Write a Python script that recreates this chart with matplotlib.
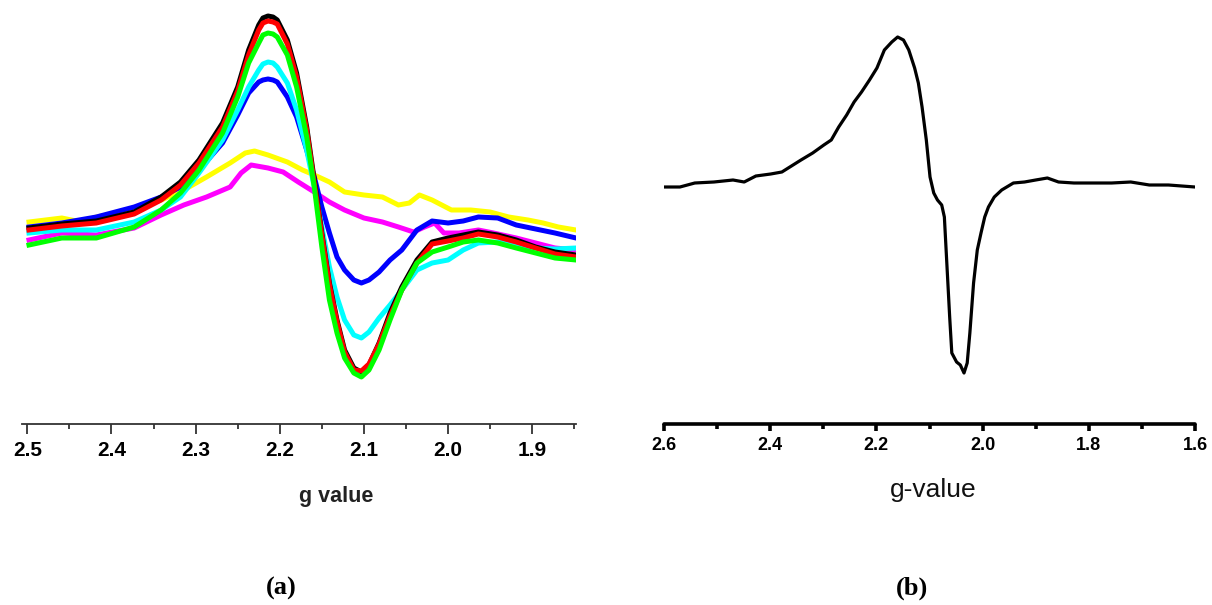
import matplotlib
matplotlib.use('Agg')
import matplotlib.pyplot as plt
from matplotlib.ticker import MultipleLocator

# panel (a): g value grid shared by the four strong traces
g_a = [2.498, 2.459, 2.418, 2.373, 2.341, 2.318, 2.296, 2.268, 2.250, 2.237, 2.225, 2.220, 2.214,
       2.208, 2.203, 2.191, 2.180, 2.168, 2.159, 2.150, 2.141, 2.132, 2.123, 2.112, 2.103, 2.094,
       2.082, 2.069, 2.055, 2.037, 2.019, 2.000, 1.982, 1.964, 1.941, 1.919, 1.896, 1.873, 1.848]
black_a = [196, 200, 203, 212, 227, 242, 264, 301, 337, 374, 399, 406, 408, 407, 404, 384, 351, 297,
           244, 191, 141, 104, 74, 56, 52, 59, 81, 111, 137, 164, 182, 186, 189, 192, 189, 184,
           177, 172, 169]
red_a = [194, 198, 201, 210, 224, 239, 261, 297, 333, 369, 394, 401, 403, 402, 400, 380, 347, 294,
         241, 189, 139, 102, 72, 54, 53, 60, 80, 108, 134, 161, 180, 183, 186, 190, 187, 182,
         176, 170, 167]
green_a = [179, 186, 186, 197, 214, 231, 254, 291, 327, 361, 381, 389, 391, 390, 387, 369, 337, 287,
           237, 177, 124, 91, 66, 51, 47, 54, 74, 104, 134, 161, 172, 177, 182, 184, 181, 176,
           171, 166, 164]
cyan_a = [191, 194, 194, 202, 214, 227, 251, 284, 314, 337, 354, 360, 362, 361, 357, 341, 314, 274,
          237, 197, 157, 127, 104, 89, 86, 92, 106, 119, 134, 154, 161, 164, 174, 181, 182, 179,
          176, 175, 176]
blue_a = [197, 201, 207, 217, 227, 237, 254, 281, 309, 331, 342, 344, 345, 344, 342, 327, 307, 274,
          247, 217, 191, 167, 154, 144, 141, 144, 152, 164, 174, 194, 203, 201, 203, 207, 206,
          199, 195, 191, 186]

g_yellow = [2.498, 2.459, 2.436, 2.418, 2.373, 2.341, 2.314, 2.287, 2.259, 2.241, 2.230, 2.214,
            2.191, 2.173, 2.159, 2.141, 2.123, 2.100, 2.078, 2.059, 2.046, 2.034, 2.019, 1.996,
            1.973, 1.950, 1.928, 1.905, 1.887, 1.869, 1.848]
yellow_a = [202, 206, 202, 207, 214, 224, 234, 247, 261, 271, 273, 269, 262, 254, 249, 242, 232,
            229, 227, 219, 221, 229, 224, 214, 214, 212, 207, 204, 201, 197, 194]

g_magenta = [2.498, 2.459, 2.418, 2.373, 2.341, 2.314, 2.287, 2.259, 2.246, 2.234, 2.214, 2.196,
             2.178, 2.159, 2.141, 2.123, 2.100, 2.078, 2.059, 2.041, 2.028, 2.016, 2.005, 1.987,
             1.964, 1.946, 1.919, 1.896, 1.873, 1.848]
magenta_a = [184, 191, 189, 196, 209, 219, 227, 237, 251, 259, 256, 252, 242, 232, 222, 214, 206,
             202, 197, 192, 197, 201, 191, 191, 194, 191, 186, 181, 176, 174]

# panel (b)
g_b = [2.599, 2.570, 2.542, 2.506, 2.470, 2.449, 2.427, 2.399, 2.378, 2.363, 2.342, 2.320, 2.299,
       2.285, 2.271, 2.256, 2.242, 2.228, 2.213, 2.199, 2.185, 2.171, 2.160, 2.149, 2.139, 2.128,
       2.121, 2.114, 2.106, 2.099, 2.092, 2.085, 2.077, 2.072, 2.067, 2.062, 2.058, 2.049, 2.042,
       2.035, 2.029, 2.024, 2.017, 2.010, 2.003, 1.996, 1.989, 1.978, 1.964, 1.942, 1.921, 1.900,
       1.878, 1.857, 1.828, 1.793, 1.757, 1.721, 1.686, 1.650, 1.600]
signal_b = [237, 237, 241, 242, 244, 242, 248, 250, 252, 257, 264, 271, 279, 284, 297, 309, 322,
            332, 344, 356, 374, 382, 387, 384, 374, 356, 341, 317, 284, 247, 231, 224, 219, 207,
            157, 107, 71, 62, 59, 51, 61, 91, 141, 174, 191, 207, 217, 227, 234, 241, 242, 244,
            246, 242, 241, 241, 241, 242, 239, 239, 237]

fig = plt.figure(figsize=(12.12, 6.05), dpi=100)

ax1 = fig.add_axes([22 / 1212, 1 - 424 / 605, 554 / 1212, 424 / 605])
ax1.plot(g_yellow, yellow_a, color='#ffff00', lw=3.6)
ax1.plot(g_magenta, magenta_a, color='#ff00ff', lw=3.6)
ax1.plot(g_a, blue_a, color='#0000ff', lw=3.6)
ax1.plot(g_a, cyan_a, color='#00ffff', lw=3.6)
ax1.plot(g_a, black_a, color='black', lw=3.6)
ax1.plot(g_a, red_a, color='#ff0000', lw=3.6)
ax1.plot(g_a, green_a, color='#00ff00', lw=3.6)
ax1.set_xlim(2.5063, 1.848)
ax1.set_ylim(0, 424)
for s in ['top', 'left', 'right']:
    ax1.spines[s].set_visible(False)
ax1.spines['bottom'].set_color('#333333')
ax1.spines['bottom'].set_linewidth(1.3)
ax1.set_yticks([])
ax1.xaxis.set_minor_locator(MultipleLocator(0.05))
ax1.set_xticks([2.5, 2.4, 2.3, 2.2, 2.1, 2.0, 1.9])
ax1.set_xticklabels(['2.5', '2.4', '2.3', '2.2', '2.1', '2.0', '1.9'])
ax1.tick_params(axis='x', which='major', length=7, width=1.3, color='#333333', pad=5)
ax1.tick_params(axis='x', which='minor', length=3.5, width=1.3, color='#333333')
for lab in ax1.get_xticklabels():
    lab.set_fontfamily('Liberation Sans')
    lab.set_fontweight('bold')
    lab.set_fontsize(15)
ax1.patch.set_alpha(0)

ax2 = fig.add_axes([664 / 1212, 1 - 424 / 605, 531 / 1212, 424 / 605])
ax2.plot(g_b, signal_b, color='black', lw=2.3)
ax2.set_xlim(2.6, 1.6)
ax2.set_ylim(0, 424)
for s in ['top', 'left', 'right']:
    ax2.spines[s].set_visible(False)
ax2.spines['bottom'].set_linewidth(2.6)
ax2.spines['bottom'].set_capstyle('round')
ax2.set_yticks([])
ax2.set_xticks([2.6, 2.4, 2.2, 2.0, 1.8, 1.6])
ax2.set_xticklabels(['2.6', '2.4', '2.2', '2.0', '1.8', '1.6'])
ax2.xaxis.set_minor_locator(MultipleLocator(0.1))
ax2.tick_params(axis='x', which='major', length=5, width=2.6, pad=4)
ax2.tick_params(axis='x', which='minor', length=3.5, width=2.6)
for lab in ax2.get_xticklabels():
    lab.set_fontfamily('Liberation Sans')
    lab.set_fontweight('bold')
    lab.set_fontsize(13)
ax2.patch.set_alpha(0)

fig.text(336 / 1212, 1 - 502 / 605, 'g value', ha='center', va='baseline',
         fontfamily='Liberation Sans', fontweight='bold', fontsize=15.5, color='#222222')
fig.text(933 / 1212, 1 - 497 / 605, 'g-value', ha='center', va='baseline',
         fontfamily='Liberation Sans', fontsize=19, color='#111111')
fig.text(281 / 1212, 1 - 595 / 605, '(a)', ha='center', va='baseline',
         fontfamily='Liberation Serif', fontweight='bold', fontsize=19)
fig.text(912 / 1212, 1 - 595 / 605, '(b)', ha='center', va='baseline',
         fontfamily='Liberation Serif', fontweight='bold', fontsize=19)

fig.savefig('out.png', dpi=100)
